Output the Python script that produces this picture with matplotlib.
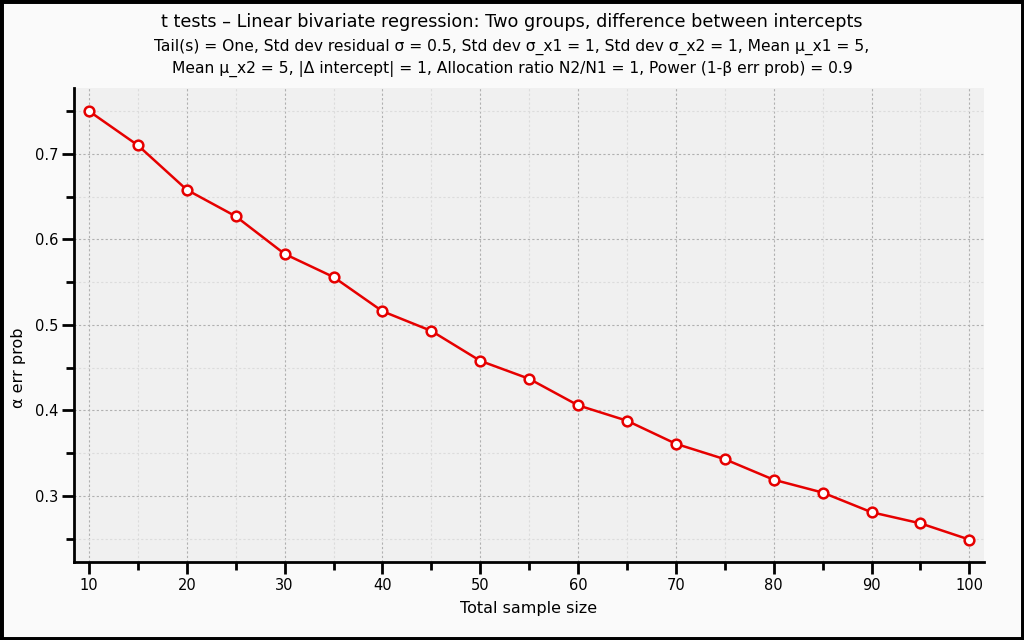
import matplotlib
matplotlib.use('Agg')
import matplotlib.pyplot as plt
from matplotlib.patches import Rectangle
from matplotlib.ticker import MultipleLocator

sample_size = [10, 15, 20, 25, 30, 35, 40, 45, 50, 55, 60, 65, 70, 75, 80, 85, 90, 95, 100]
alpha_err = [0.750, 0.710, 0.658, 0.627, 0.583, 0.556, 0.516, 0.493, 0.458, 0.437,
             0.406, 0.388, 0.361, 0.343, 0.319, 0.304, 0.281, 0.268, 0.249]

title = 't tests \u2013 Linear bivariate regression: Two groups, difference between intercepts'
subtitle = ('Tail(s) = One, Std dev residual \u03c3 = 0.5, Std dev \u03c3_x1 = 1, Std dev \u03c3_x2 = 1, Mean \u03bc_x1 = 5,\n'
            'Mean \u03bc_x2 = 5, |\u0394 intercept| = 1, Allocation ratio N2/N1 = 1, Power (1-\u03b2 err prob) = 0.9')

plt.rcParams['font.family'] = ['DejaVu Sans']

fig = plt.figure(figsize=(10.24, 6.4), dpi=100, facecolor='#fafafa')
ax = fig.add_axes([74/1024, 1 - 562/640, 910/1024, 474/640])
ax.set_facecolor('#f0f0f0')

ax.plot(sample_size, alpha_err, color='#e60000', lw=1.8, marker='o', ms=7,
        mfc='white', mec='#e60000', mew=1.8, zorder=3)

ax.set_xlim(8.47, 101.5)
ax.set_ylim(0.2228, 0.777)
ax.xaxis.set_major_locator(MultipleLocator(10))
ax.xaxis.set_minor_locator(MultipleLocator(5))
ax.yaxis.set_major_locator(MultipleLocator(0.1))
ax.yaxis.set_minor_locator(MultipleLocator(0.05))

ax.grid(which='major', color='#b0b0b0', ls=(0, (2, 2)), lw=0.8)
ax.grid(which='minor', color='#dcdcdc', ls=(0, (2, 2)), lw=0.8)
ax.set_axisbelow(True)

for s in ['top', 'right']:
    ax.spines[s].set_visible(False)
for s in ['left', 'bottom']:
    ax.spines[s].set_linewidth(2)
ax.tick_params(which='major', direction='out', length=8.5, width=2, labelsize=10.5, pad=3)
ax.tick_params(which='minor', direction='out', length=5.5, width=2)

ax.set_xlabel('Total sample size', fontsize=11.5, labelpad=6)
ax.set_ylabel('\u03b1 err prob', fontsize=11.5)
ax.yaxis.set_label_coords(-0.053, 0.41)

fig.text(0.5, 1 - 22/640, title, ha='center', va='center', fontsize=12.7)
fig.text(0.5, 1 - 58/640, subtitle, ha='center', va='center', fontsize=11.2, linespacing=1.5)

fig.patches.append(Rectangle((0, 0), 1, 1, transform=fig.transFigure, fill=False,
                             edgecolor='black', lw=5))

fig.savefig('out.png', dpi=100, facecolor=fig.get_facecolor())
